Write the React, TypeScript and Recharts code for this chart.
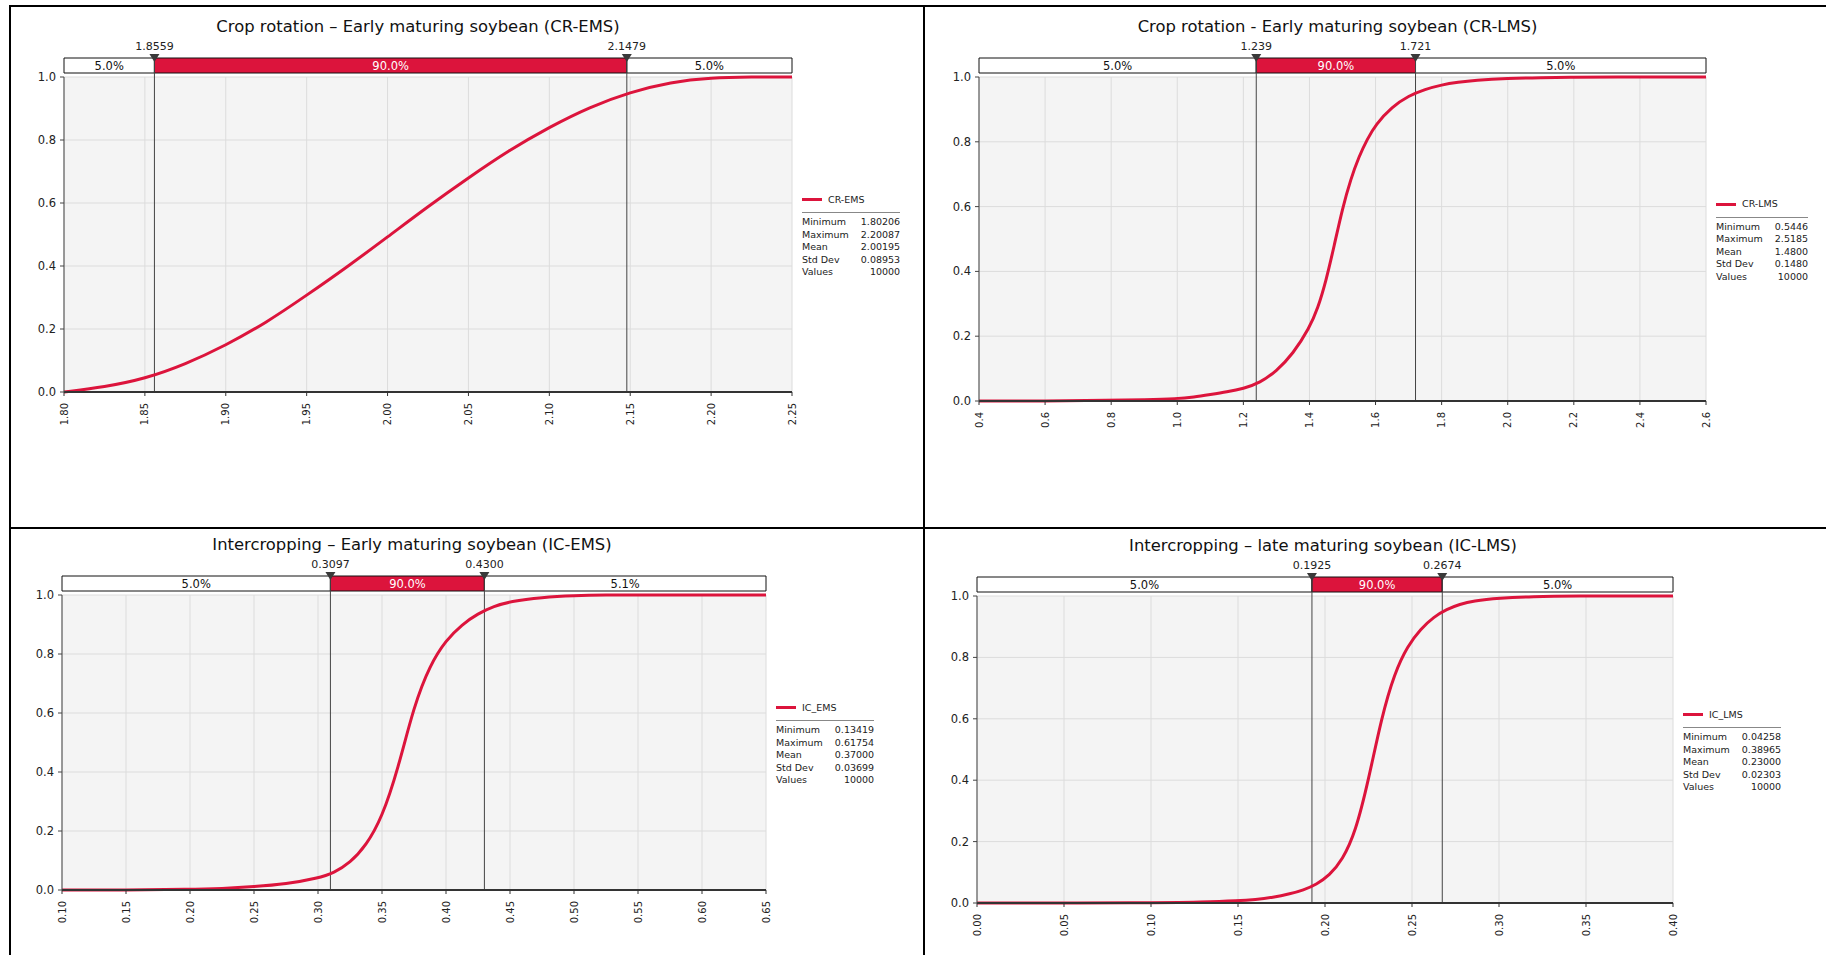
import React from 'react';
import {
  LineChart,
  Line,
  XAxis,
  YAxis,
  CartesianGrid,
  ReferenceArea,
  ReferenceLine,
  ReferenceDot,
} from 'recharts';

const FONT = '"DejaVu Sans", Verdana, sans-serif';
const RED = '#dc143c';

// ---------- Data: CR-EMS ----------
const crEmsX = [1.8, 1.825, 1.85, 1.875, 1.9, 1.925, 1.95, 1.975, 2.0, 2.025, 2.05, 2.075, 2.1, 2.125, 2.15, 2.175, 2.2, 2.225, 2.25];
const crEmsY = [0.0, 0.016, 0.042, 0.088, 0.148, 0.22, 0.307, 0.397, 0.492, 0.589, 0.68, 0.767, 0.841, 0.905, 0.952, 0.984, 0.998, 1.0, 1.0];
const crEmsTicks = [1.8, 1.85, 1.9, 1.95, 2.0, 2.05, 2.1, 2.15, 2.2, 2.25];
const crEmsMarkers = [1.8559, 2.1479];
const crEmsMarkerLabels = ['1.8559', '2.1479'];
const crEmsPercents = ['5.0%', '90.0%', '5.0%'];
const crEmsStats = ['1.80206', '2.20087', '2.00195', '0.08953', '10000'];

// ---------- Data: CR-LMS ----------
const crLmsX = [0.4, 0.6, 0.8, 0.9, 1.0, 1.05, 1.1, 1.15, 1.2, 1.25, 1.3, 1.35, 1.4, 1.425, 1.45, 1.475, 1.5, 1.525, 1.55, 1.575, 1.6, 1.65, 1.7, 1.75, 1.8, 1.85, 1.9, 2.0, 2.1, 2.2, 2.3, 2.6];
const crLmsY = [0.0, 0.0, 0.002, 0.004, 0.007, 0.012, 0.02, 0.028, 0.038, 0.056, 0.092, 0.145, 0.226, 0.285, 0.37, 0.48, 0.595, 0.685, 0.755, 0.808, 0.853, 0.908, 0.942, 0.962, 0.976, 0.984, 0.99, 0.996, 0.998, 0.999, 1.0, 1.0];
const crLmsTicks = [0.4, 0.6, 0.8, 1.0, 1.2, 1.4, 1.6, 1.8, 2.0, 2.2, 2.4, 2.6];
const crLmsMarkers = [1.239, 1.721];
const crLmsMarkerLabels = ['1.239', '1.721'];
const crLmsPercents = ['5.0%', '90.0%', '5.0%'];
const crLmsStats = ['0.5446', '2.5185', '1.4800', '0.1480', '10000'];

// ---------- Data: IC-EMS ----------
const icEmsX = [0.1, 0.15, 0.2, 0.225, 0.25, 0.275, 0.3, 0.3125, 0.325, 0.3375, 0.35, 0.3625, 0.375, 0.3875, 0.4, 0.4125, 0.425, 0.4375, 0.45, 0.475, 0.5, 0.525, 0.55, 0.65];
const icEmsY = [0.0, 0.0, 0.002, 0.005, 0.011, 0.02, 0.04, 0.058, 0.092, 0.15, 0.245, 0.41, 0.625, 0.763, 0.847, 0.9, 0.937, 0.962, 0.978, 0.992, 0.998, 1.0, 1.0, 1.0];
const icEmsTicks = [0.1, 0.15, 0.2, 0.25, 0.3, 0.35, 0.4, 0.45, 0.5, 0.55, 0.6, 0.65];
const icEmsMarkers = [0.3097, 0.43];
const icEmsMarkerLabels = ['0.3097', '0.4300'];
const icEmsPercents = ['5.0%', '90.0%', '5.1%'];
const icEmsStats = ['0.13419', '0.61754', '0.37000', '0.03699', '10000'];

// ---------- Data: IC-LMS ----------
const icLmsX = [0.0, 0.1, 0.13, 0.15, 0.16, 0.17, 0.18, 0.1875, 0.195, 0.2025, 0.21, 0.2175, 0.225, 0.2325, 0.24, 0.2475, 0.255, 0.2625, 0.27, 0.2775, 0.285, 0.3, 0.32, 0.34, 0.4];
const icLmsY = [0.0, 0.0, 0.003, 0.007, 0.011, 0.018, 0.03, 0.042, 0.06, 0.09, 0.14, 0.23, 0.4, 0.605, 0.75, 0.838, 0.893, 0.932, 0.957, 0.973, 0.984, 0.993, 0.998, 1.0, 1.0];
const icLmsTicks = [0.0, 0.05, 0.1, 0.15, 0.2, 0.25, 0.3, 0.35, 0.4];
const icLmsMarkers = [0.1925, 0.2674];
const icLmsMarkerLabels = ['0.1925', '0.2674'];
const icLmsPercents = ['5.0%', '90.0%', '5.0%'];
const icLmsStats = ['0.04258', '0.38965', '0.23000', '0.02303', '10000'];

const yTicks = [0, 0.2, 0.4, 0.6, 0.8, 1.0];
const statLabels = ['Minimum', 'Maximum', 'Mean', 'Std Dev', 'Values'];

type PanelProps = {
  title: string;
  titleDx: number;
  name: string;
  xs: number[];
  ys: number[];
  ticks: number[];
  digits: number;
  markers: number[];
  markerLabels: string[];
  percents: string[];
  stats: string[];
  left: number;
  top: number;
  width: number;
  height: number;
  yAxisWidth: number;
  margin: { top: number; right: number; bottom: number; left: number };
};

const XTick = (props: any) => {
  const { x, y, payload, digits } = props;
  return (
    <text
      x={0}
      y={0}
      transform={`translate(${x},${y}) rotate(-90)`}
      textAnchor="end"
      dy="0.36em"
      fontSize={10}
      fontFamily={FONT}
      fill="#222"
    >
      {Number(payload.value).toFixed(digits)}
    </text>
  );
};

const Marker = (props: any) => {
  const { cx, cy, text } = props;
  if (cx == null || cy == null) return null;
  return (
    <g>
      <path d={`M${cx - 5},${cy - 4} L${cx + 5},${cy - 4} L${cx},${cy + 4} Z`} fill="#3a3a3a" />
      <text x={cx} y={cy - 8} textAnchor="middle" fontSize={11} fontFamily={FONT} fill="#222">
        {text}
      </text>
    </g>
  );
};

const StatsLegend = ({ left, lineY, name, stats }: { left: number; lineY: number; name: string; stats: string[] }) => (
  <div style={{ position: 'absolute', left, top: lineY - 6, fontFamily: FONT, fontSize: 9.5, color: '#222' }}>
    <div style={{ position: 'absolute', left: 0, top: 4.5, width: 20, height: 3, background: RED }} />
    <div style={{ position: 'absolute', left: 26, top: 0, lineHeight: '12px', whiteSpace: 'nowrap' }}>{name}</div>
    <div style={{ position: 'absolute', left: 0, top: 18.5, display: 'inline-block' }}>
      <div style={{ height: 1, background: '#888' }} />
      <table style={{ borderCollapse: 'collapse', marginTop: 3, fontSize: 9.5, fontFamily: FONT, color: '#222' }}>
        <tbody>
          {statLabels.map((l, i) => (
            <tr key={l} style={{ lineHeight: '12.6px' }}>
              <td style={{ padding: 0, whiteSpace: 'nowrap' }}>{l}</td>
              <td style={{ padding: 0, paddingLeft: 12, textAlign: 'right', whiteSpace: 'nowrap' }}>{stats[i]}</td>
            </tr>
          ))}
        </tbody>
      </table>
    </div>
  </div>
);

const Panel = (p: PanelProps) => {
  const data = p.xs.map((x, i) => ({ x, y: p.ys[i] }));
  const plotLeft = p.left + p.yAxisWidth + p.margin.left;
  const plotRight = p.left + p.width - p.margin.right;
  const plotTop = p.top + p.margin.top;
  const plotBottom = p.top + p.height - p.margin.bottom - 40;
  const plotH = plotBottom - plotTop;
  const barBottom = 1 + 4 / plotH;
  const barTop = 1 + 19 / plotH;
  const xMin = p.ticks[0];
  const xMax = p.ticks[p.ticks.length - 1];
  const bounds = [xMin, p.markers[0], p.markers[1], xMax];
  const cx = (plotLeft + plotRight) / 2 + p.titleDx;
  const cy = (plotTop + plotBottom) / 2;
  return (
    <>
      <div
        style={{
          position: 'absolute',
          left: cx - 400,
          width: 800,
          top: plotTop - 60,
          lineHeight: '20px',
          textAlign: 'center',
          fontFamily: FONT,
          fontSize: 16.4,
          color: '#111',
        }}
      >
        {p.title}
      </div>
      <div style={{ position: 'absolute', left: p.left, top: p.top }}>
        <LineChart width={p.width} height={p.height} data={data} margin={p.margin}>
          <CartesianGrid stroke="#dcdcdc" fill="#f4f4f4" fillOpacity={1} />
          <XAxis
            type="number"
            dataKey="x"
            domain={[xMin, xMax]}
            ticks={p.ticks}
            interval={0}
            height={40}
            tickSize={4}
            tickMargin={7}
            axisLine={{ stroke: '#333', strokeWidth: 2 }}
            tickLine={{ stroke: '#333' }}
            tick={<XTick digits={p.digits} />}
          />
          <YAxis
            type="number"
            domain={[0, 1]}
            ticks={yTicks}
            interval={0}
            width={p.yAxisWidth}
            tickSize={4}
            tickMargin={4}
            axisLine={{ stroke: '#444' }}
            tickLine={{ stroke: '#444' }}
            tick={{ fontSize: 11.5, fontFamily: FONT, fill: '#222' }}
            tickFormatter={(v: number) => v.toFixed(1)}
          />
          {p.percents.map((txt, i) => (
            <ReferenceArea
              key={'a' + i}
              x1={bounds[i]}
              x2={bounds[i + 1]}
              y1={barBottom}
              y2={barTop}
              ifOverflow="visible"
              fill={i === 1 ? RED : '#ffffff'}
              fillOpacity={1}
              stroke="#111"
              strokeWidth={1}
              label={{ value: txt, position: 'center', fill: i === 1 ? '#ffffff' : '#111', fontSize: 11.5, fontFamily: FONT }}
            />
          ))}
          {p.markers.map((m, i) => (
            <ReferenceLine
              key={'l' + i}
              segment={[
                { x: m, y: 0 },
                { x: m, y: barTop },
              ]}
              ifOverflow="visible"
              stroke="#444"
              strokeWidth={1}
            />
          ))}
          <Line
            type="basis"
            dataKey="y"
            stroke={RED}
            strokeWidth={3}
            dot={false}
            activeDot={false}
            isAnimationActive={false}
          />
          {p.markers.map((m, i) => (
            <ReferenceDot
              key={'d' + i}
              x={m}
              y={barTop}
              ifOverflow="visible"
              shape={(sp: any) => <Marker cx={sp.cx} cy={sp.cy} text={p.markerLabels[i]} />}
            />
          ))}
        </LineChart>
      </div>
      <StatsLegend left={plotRight + 10} lineY={cy - 35} name={p.name} stats={p.stats} />
    </>
  );
};

export default function App() {
  return (
    <div style={{ position: 'absolute', left: 0, top: 0, width: 1826, height: 955, background: '#fff', overflow: 'hidden' }}>
      <Panel
        title="Crop rotation – Early maturing soybean (CR-EMS)"
        titleDx={-10}
        name="CR-EMS"
        xs={crEmsX}
        ys={crEmsY}
        ticks={crEmsTicks}
        digits={2}
        markers={crEmsMarkers}
        markerLabels={crEmsMarkerLabels}
        percents={crEmsPercents}
        stats={crEmsStats}
        left={0}
        top={0}
        width={924}
        height={528}
        yAxisWidth={64}
        margin={{ top: 77, right: 132, bottom: 96, left: 0 }}
      />
      <Panel
        title="Crop rotation - Early maturing soybean (CR-LMS)"
        titleDx={-5}
        name="CR-LMS"
        xs={crLmsX}
        ys={crLmsY}
        ticks={crLmsTicks}
        digits={1}
        markers={crLmsMarkers}
        markerLabels={crLmsMarkerLabels}
        percents={crLmsPercents}
        stats={crLmsStats}
        left={924}
        top={0}
        width={902}
        height={528}
        yAxisWidth={55}
        margin={{ top: 77, right: 120, bottom: 87, left: 0 }}
      />
      <Panel
        title="Intercropping – Early maturing soybean (IC-EMS)"
        titleDx={-2}
        name="IC_EMS"
        xs={icEmsX}
        ys={icEmsY}
        ticks={icEmsTicks}
        digits={2}
        markers={icEmsMarkers}
        markerLabels={icEmsMarkerLabels}
        percents={icEmsPercents}
        stats={icEmsStats}
        left={0}
        top={528}
        width={924}
        height={427}
        yAxisWidth={62}
        margin={{ top: 67, right: 158, bottom: 25, left: 0 }}
      />
      <Panel
        title="Intercropping – late maturing soybean (IC-LMS)"
        titleDx={-2}
        name="IC_LMS"
        xs={icLmsX}
        ys={icLmsY}
        ticks={icLmsTicks}
        digits={2}
        markers={icLmsMarkers}
        markerLabels={icLmsMarkerLabels}
        percents={icLmsPercents}
        stats={icLmsStats}
        left={924}
        top={528}
        width={902}
        height={427}
        yAxisWidth={53}
        margin={{ top: 68, right: 153, bottom: 12, left: 0 }}
      />
      {/* panel frame lines */}
      <div style={{ position: 'absolute', left: 9, top: 5, width: 1817, height: 2, background: '#000' }} />
      <div style={{ position: 'absolute', left: 9, top: 5, width: 2, height: 950, background: '#000' }} />
      <div style={{ position: 'absolute', left: 923, top: 5, width: 2, height: 950, background: '#000' }} />
      <div style={{ position: 'absolute', left: 9, top: 527, width: 1817, height: 2, background: '#000' }} />
    </div>
  );
}
